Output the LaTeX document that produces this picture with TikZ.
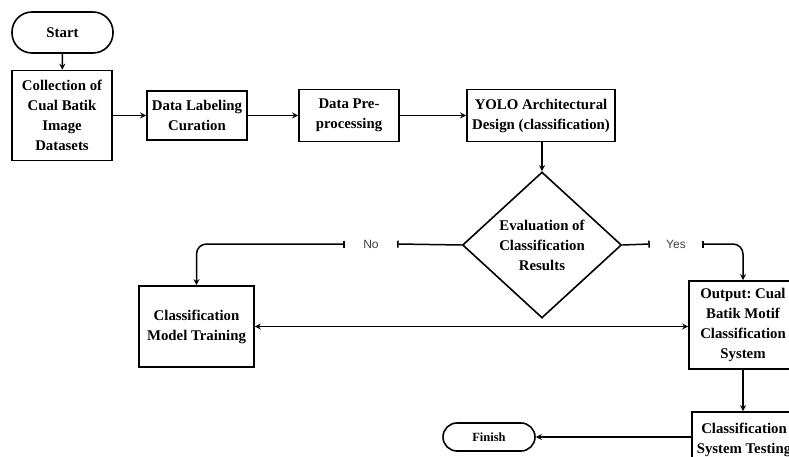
\documentclass[tikz,border=0pt]{standalone}
\usepackage{fontspec}
\setmainfont{Liberation Serif}
\newfontfamily\lblfont{Liberation Sans}
\usetikzlibrary{arrows.meta,shapes.geometric,calc}
\definecolor{lblgray}{HTML}{404040}
\frenchspacing
\tikzset{
  box/.style={draw, line width=1.6pt, align=center, inner sep=0pt,
    font=\fontsize{14.8}{20}\selectfont\bfseries},
  term/.style={box, rounded corners=14pt},
  dec/.style={draw, diamond, line width=1.6pt, align=center, inner sep=0pt,
    minimum width=159pt, minimum height=146pt,
    font=\fontsize{14.8}{20}\selectfont\bfseries},
  lbl/.style={font=\lblfont\fontsize{12}{14}\selectfont, text=lblgray,
    minimum width=52pt, inner sep=0pt},
  conn/.style={line width=1.5pt, -{Stealth[length=6pt,width=6pt]}},
  tick/.style={line width=1.5pt},
}
\begin{document}
\begin{tikzpicture}[x=1pt,y=-1pt]
\useasboundingbox (0,0) rectangle (789,457);
\clip (0,0) rectangle (789,457);
\node[term, minimum width=101pt, minimum height=41pt, rounded corners=20pt] (start) at (62.5,32.5) {Start};
\node[box, minimum width=100pt, minimum height=90pt] (coll) at (62,115.5) {Collection of\\Cual Batik\\Image\\Datasets};
\node[box, minimum width=100pt, minimum height=49pt] (lab) at (197,115.5) {Data Labeling\\Curation};
\node[box, minimum width=100pt, minimum height=52pt] (pre) at (349,115.5) {Data Pre-\\processing};
\node[box, minimum width=148pt, minimum height=52pt] (yolo) at (541,115.5) {YOLO Architectural\\Design (classification)};
\node[dec] (eval) at (542,245) {Evaluation of\\Classification\\Results};
\node[lbl] (no) at (371,244) {No};
\node[lbl] (yes) at (676,244) {Yes};
\node[box, minimum width=115pt, minimum height=81pt] (train) at (196.5,326.5) {Classification\\Model Training};
\node[box, minimum width=108pt, minimum height=88pt] (out) at (743,325) {Output: Cual\\Batik Motif\\Classification\\System};
\node[box, minimum width=104pt, minimum height=56pt] (test) at (744,440) {Classification\\System Testing};
\node[term, minimum width=92pt, minimum height=28pt, font=\fontsize{12.5}{14}\selectfont\bfseries] (fin) at (489,437) {Finish};

\draw[conn] (start) -- (coll);
\draw[conn] (coll.east) -- (lab.west);
\draw[conn] (lab.east) -- (pre.west);
\draw[conn] (pre.east) -- (yolo.west);
\draw[conn] (yolo.south -| eval.north) -- (eval.north);
\draw[tick, -{Bar[width=7pt]}] (eval.west) -- (no.east);
\draw[conn, {Bar[width=7pt]}-{Stealth[length=6pt,width=6pt]}, rounded corners=10pt] (no.west) -| (train.north);
\draw[tick, -{Bar[width=7pt]}] (eval.east) -- (yes.west);
\draw[conn, {Bar[width=7pt]}-{Stealth[length=6pt,width=6pt]}, rounded corners=10pt] (yes.east) -| (out.north);
\draw[conn, {Stealth[length=6pt,width=6pt]}-{Stealth[length=6pt,width=6pt]}] (train.east) -- (train.east -| out.west);
\draw[conn] (out.south) -- (out.south |- test.north);
\draw[conn] (test.west |- fin.east) -- (fin.east);
\end{tikzpicture}
\end{document}
